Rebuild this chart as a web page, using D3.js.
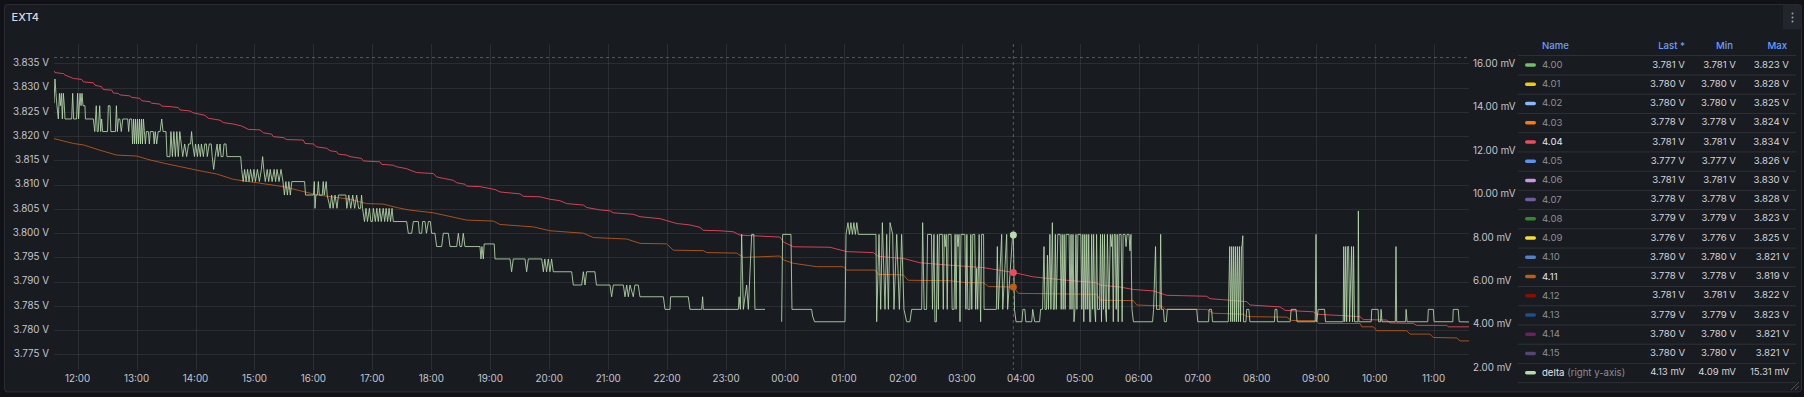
<!DOCTYPE html>
<html>
<head>
<meta charset="utf-8">
<script src="https://cdn.jsdelivr.net/npm/d3@7"></script>
<style>
  body { margin: 0; background: #111217; }
  svg text { font-family: Inter, "Open Sans", sans-serif; }
</style>
</head>
<body>
<svg id="chart"></svg>
<script>
// time window: 24h starting 11:36, series stored as [minutes since start, value]
const startTime = new Date(2024, 0, 1, 11, 36);
const windowMinutes = 1440;
const hoverMinute = 976.3;
const cursorVolt = 3.8362;

const leftTicks = [3.775, 3.780, 3.785, 3.790, 3.795, 3.800, 3.805, 3.810, 3.815, 3.820, 3.825, 3.830, 3.835];
const rightTicks = [2, 4, 6, 8, 10, 12, 14, 16];

// cell 4.04 (V)
const cell404 = [[0,3.8335],[1,3.8331],[9.5,3.8329],[11.2,3.8326],[19.7,3.8319],[28.2,3.8317],[29.9,3.8312],[40,3.8310],
  [41.7,3.8305],[48.5,3.8302],[50.2,3.8296],[58.7,3.8295],[60.4,3.8289],[65.5,3.8288],[67.2,3.8285],[77.3,3.8283],
  [79,3.8280],[87.5,3.8278],[89.2,3.8273],[97.7,3.8271],[99.4,3.8268],[107.9,3.8266],[109.6,3.8262],[118.1,3.8261],
  [126.5,3.8259],[128.2,3.8254],[138.4,3.8252],[141.8,3.8248],[153.6,3.8243],[157,3.8237],[168.9,3.8233],[172.3,3.8228],
  [182.5,3.8225],[191,3.8221],[197.8,3.8214],[209.6,3.8213],[213,3.8207],[221.5,3.8204],[223.2,3.8199],[233.4,3.8197],
  [236.8,3.8193],[253.7,3.8192],[255.4,3.8185],[263.9,3.8184],[267.3,3.8178],[277.5,3.8175],[280.9,3.8170],[287.6,3.8168],
  [289.3,3.8163],[297.8,3.8161],[301.2,3.8158],[313.1,3.8154],[314.8,3.8149],[331.7,3.8147],[333.4,3.8142],[345.3,3.8140],
  [348.7,3.8137],[358.9,3.8133],[362.3,3.8130],[369.1,3.8125],[386,3.8123],[389.4,3.8116],[396.2,3.8113],[406.4,3.8109],
  [409.8,3.8104],[418.2,3.8101],[420,3.8097],[433.5,3.8096],[448.8,3.8090],[453.9,3.8085],[464.1,3.8083],[474.2,3.8081],
  [477.6,3.8076],[494.6,3.8075],[504.7,3.8070],[514.9,3.8067],[521.7,3.8061],[538.7,3.8058],[542.1,3.8053],[555.6,3.8048],
  [565.8,3.8046],[569.2,3.8042],[589.5,3.8039],[596.3,3.8034],[616.7,3.8030],[623.5,3.8026],[633.6,3.8020],[647.2,3.8017],
  [657.4,3.8012],[660.8,3.8006],[677.7,3.8005],[691.3,3.8003],[698.1,3.7996],[718.4,3.7994],[738.8,3.7992],[742.2,3.7982],
  [752.4,3.7972],[789.7,3.7971],[806.7,3.7962],[833.8,3.7960],[838.9,3.7952],[864.3,3.7948],[881.3,3.7939],[911.9,3.7934],
  [945.8,3.7929],[976.3,3.7919],[996.6,3.7910],[1030.6,3.7903],[1061.2,3.7898],[1064.5,3.7893],[1084.9,3.7889],
  [1098.4,3.7884],[1118.8,3.7881],[1132.3,3.7872],[1173,3.7870],[1176.4,3.7865],[1213.7,3.7859],[1217.1,3.7852],
  [1247.7,3.7848],[1252.8,3.7841],[1281.6,3.7838],[1285,3.7833],[1329.1,3.7828],[1332.5,3.7822],[1356.2,3.7821],
  [1359.6,3.7815],[1383.4,3.7814],[1386.7,3.7810],[1417.3,3.7810],[1419,3.7807],[1440,3.7807]];

// cell 4.11 (V)
const cell411 = [[0,3.8195],[19.6,3.8185],[29.8,3.8182],[46.8,3.8171],[63.8,3.8161],[84.2,3.8159],[97.7,3.8151],[114.7,3.8143],
  [145.2,3.8130],[165.6,3.8122],[182.5,3.8111],[216.5,3.8101],[233.4,3.8096],[267.4,3.8079],[301.2,3.8070],[318.2,3.8061],
  [335.1,3.8060],[348.8,3.8053],[360.6,3.8048],[386,3.8042],[420,3.8027],[447.1,3.8025],[453.9,3.8018],[487.8,3.8013],
  [504.8,3.8005],[538.7,3.8000],[548.9,3.7991],[582.8,3.7988],[596.4,3.7979],[623.5,3.7978],[630.3,3.7965],[660.8,3.7964],
  [664.3,3.7960],[694.8,3.7959],[701.5,3.7950],[738.8,3.7953],[742.2,3.7945],[752.4,3.7938],[776.2,3.7931],[803.3,3.7931],
  [806.7,3.7924],[835.5,3.7924],[838.9,3.7915],[864.3,3.7914],[869.4,3.7903],[911.9,3.7902],[928.9,3.7898],[945.8,3.7898],
  [950.9,3.7890],[976.3,3.7889],[981.4,3.7876],[1061.2,3.7874],[1064.5,3.7862],[1098.4,3.7861],[1101.9,3.7852],[1127.3,3.7850],
  [1130.7,3.7843],[1173.1,3.7843],[1179.8,3.7835],[1210.4,3.7833],[1213.8,3.7828],[1254.5,3.7827],[1259.6,3.7820],[1285,3.7820],
  [1286.7,3.7814],[1329.2,3.7814],[1330.9,3.7807],[1342.7,3.7807],[1346.1,3.7799],[1376.6,3.7799],[1380,3.7792],[1400.3,3.7792],
  [1403.7,3.7785],[1427.5,3.7784],[1430.9,3.7778],[1440,3.7778]];

// delta (mV, right axis), null = gap
const delta = [[0,14.2],[1,15.31],[2,14.65],[3,14.08],[4.4,13.47],[5.5,14.65],[6.5,14.08],[7.5,14.65],[8.5,13.47],[9.5,14.65],
  [10.5,14.08],[11.2,13.47],[18,13.47],[19,14.65],[20,13.47],[23,13.47],[24,14.65],[25,13.47],[26.5,14.65],[27.5,14.08],
  [28.5,14.65],[29.5,14.08],[31.5,14.08],[32,13.47],[40,13.47],[41.5,12.89],[43,14.08],[44,12.89],[45,12.89],[46.5,14.08],
  [47.5,12.89],[48.5,13.47],[49.5,12.89],[54.5,12.89],[55.3,14.08],[57,14.08],[57.8,12.89],[62.5,12.89],[63.5,14.08],
  [64.5,12.89],[65.5,13.47],[67,13.47],[68.5,12.89],[70,13.47],[75,13.47],[76,12.89],[77,13.47],[79,13.47],[80,12.32],
  [81,13.47],[82,12.32],[83,13.47],[84,12.32],[85,13.47],[86,12.32],[87,13.47],[88,12.32],[89,13.47],[90,12.32],[91,13.47],
  [92,12.89],[93,12.32],[94,12.89],[96,12.89],[97,12.32],[98,12.89],[101,12.89],[102,12.32],[103,12.89],[104.5,12.32],
  [106,12.89],[108,12.89],[109.6,13.47],[111,12.89],[114,12.89],[115,11.74],[118,11.74],[119,12.89],[120.5,11.74],[122,12.89],
  [123.5,11.74],[125,12.89],[126.5,11.74],[128,12.89],[129.5,12.32],[131,11.74],[133,12.32],[135,11.74],[137,12.32],
  [139,12.32],[140,12.89],[141,12.32],[143,11.74],[144,12.32],[146,11.74],[147,12.32],[149,11.74],[150,12.32],[152,11.74],
  [153.5,12.32],[155,12.32],[156,11.74],[158,12.32],[160,12.32],[161,11.74],[162.5,11.15],[164,11.74],[166,12.32],[167,11.74],
  [169,12.32],[170,11.74],[172,11.74],[173,12.32],[175,12.32],[176,11.74],[190,11.74],[191,11.15],[192.5,10.59],[194,11.15],
  [195.5,10.59],[197,11.15],[198.5,10.59],[200,11.15],[202,10.59],[203.5,11.15],[205,10.59],[207,11.15],[209,10.59],
  [211,11.15],[212.3,11.74],[213.5,11.15],[215,10.59],[217,11.15],[218.5,10.59],[220,11.15],[222,10.59],[224,11.15],
  [225.5,10.59],[227,11.15],[229,10.59],[231,11.15],[233,10.59],[234.5,9.97],[236,10.59],[237.5,9.97],[239,10.59],
  [240.5,9.97],[242,10.59],[255,10.59],[256,9.97],[264,9.97],[264.9,10.59],[265.6,9.36],[266.5,9.97],[268,9.97],[269,10.59],
  [270,9.97],[273,9.97],[274,10.59],[275,9.97],[277,10.59],[278,9.97],[281,9.36],[282.5,9.97],[284,9.36],[286,9.97],
  [288,9.36],[289.5,9.97],[297,9.97],[298,9.36],[300,9.97],[302,9.36],[304,9.97],[306,9.36],[308,9.97],[310,9.36],[312,9.36],
  [313,9.97],[314,9.36],[316,8.75],[317.5,9.36],[319,8.75],[321,9.36],[322.5,8.75],[324,8.75],[325,9.36],[327,8.75],
  [328.5,9.36],[330,8.75],[331.5,9.36],[333,8.75],[335,9.36],[336.5,8.75],[338,9.36],[339.5,8.75],[341,9.36],[342.5,8.75],
  [344,9.36],[345.3,8.75],[352.1,8.75],[358.9,8.75],[360.6,8.21],[364,8.21],[365.7,8.75],[370.8,8.75],[371.8,8.21],
  [374.2,8.21],[375.2,8.75],[377.5,8.75],[379,8.21],[381,8.75],[383,8.75],[384.3,8.21],[387.7,8.21],[389.4,7.60],[394.5,7.60],
  [396.2,8.21],[401.3,8.21],[403,7.60],[409.8,7.60],[411.5,8.21],[413.2,7.60],[414.9,7.60],[416.5,8.21],[418.2,7.60],
  [433.5,7.60],[434.5,7.03],[435.5,7.60],[436.9,7.03],[437.8,7.72],[448,7.72],[448.8,7.03],[464.1,7.03],[465.7,6.44],
  [467.4,7.03],[479.3,7.03],[481,6.44],[482.7,7.03],[496.3,7.03],[498,6.44],[499.5,7.03],[501.3,6.44],[503,7.03],[504.7,6.44],
  [506.4,7.03],[508.1,6.44],[526.8,6.44],[528.5,5.83],[537,5.83],[538.7,6.44],[540.4,5.83],[542,6.44],[550.5,6.44],[552,5.83],
  [565.8,5.83],[567.5,5.29],[569.2,5.83],[579.4,5.83],[581.1,5.29],[582.8,5.83],[584.5,5.29],[586.2,5.83],[589.5,5.29],
  [591.2,5.83],[594.6,5.83],[596.3,5.29],[620.1,5.29],[621.8,4.71],[626.9,4.71],[627.5,5.29],[645.5,5.29],[647.2,4.71],
  [659.1,4.71],[660.1,5.29],[660.8,4.71],[696.4,4.71],[697.2,5.29],[698.5,4.71],[699.8,8.16],[701.5,4.71],[704.9,5.83],
  [706.6,4.71],[710,8.16],[712.2,8.16],[713.3,4.71],[723.6,4.71],[730,null],[740.5,4.14],[741.5,8.16],[750,8.16],[751,4.71],
  [771,4.71],[772,4.4],[774,4.14],[805,4.14],[806,8.16],[808,8.70],[809.5,8.16],[811,8.70],[812.5,8.16],[814,8.70],
  [815.5,8.16],[817,8.70],[818.5,8.16],[836.5,8.16],[837.2,4.14],[839.6,8.16],[841.3,4.71],[843,8.70],[845.7,4.71],
  [847.4,8.16],[849.1,4.71],[850.8,8.70],[853.5,8.16],[854.8,4.71],[857.6,8.16],[860.3,4.71],[862.6,8.16],[865,4.71],
  [867.7,4.14],[871,4.14],[872.8,4.71],[883,4.71],[884,8.70],[885.5,4.71],[888,4.71],[889,8.16],[893,8.16],[894,4.71],
  [895.5,8.16],[896.5,4.14],[898,4.14],[899,8.16],[900,4.71],[901,8.16],[904,8.16],[905,4.71],[906,8.16],[907,7.60],
  [908,8.16],[909,4.71],[910,8.16],[913,8.16],[914,4.71],[916,4.71],[917,8.16],[918,4.71],[919,8.16],[920,7.60],[921,8.16],
  [922,4.14],[923,8.16],[927,8.16],[928,4.71],[929,8.16],[930,4.71],[932,4.71],[933,8.16],[934,4.71],[935,8.16],[937,8.16],
  [938,4.71],[939,6.60],[940,4.71],[941.5,8.16],[943,4.14],[944,8.16],[946,8.16],[946.5,4.71],[959,4.71],[960,7.60],
  [961,4.71],[964.4,8.16],[965.5,4.71],[969.5,8.16],[970.5,4.71],[975.6,8.16],[976.3,8.13],[977.5,4.71],[979,4.14],[985,4.14],
  [986,4.71],[988,4.71],[989,4.14],[995,4.14],[996,4.71],[998,4.14],[1003,4.14],[1004,4.71],[1006,4.71],[1007.5,7.60],
  [1008.5,4.71],[1010,4.71],[1011,7.20],[1012,4.71],[1013.5,8.16],[1014.5,4.71],[1016,8.70],[1017,4.71],[1018,4.71],
  [1019,8.16],[1020,4.71],[1021.5,8.16],[1024,8.16],[1025,4.71],[1026,8.16],[1027,4.71],[1028,8.16],[1029,4.71],[1030,8.16],
  [1033,8.16],[1034,4.71],[1035,8.16],[1036,4.71],[1037,8.16],[1038,4.14],[1039,4.71],[1040,8.16],[1041,4.71],[1042,8.16],
  [1045,8.16],[1046,4.71],[1047,8.16],[1048,4.14],[1049,8.16],[1050,4.71],[1051,8.16],[1052,4.71],[1053,8.16],[1054,4.14],
  [1055,4.14],[1056,8.16],[1057,4.71],[1058,8.16],[1059,4.71],[1060,4.14],[1061,8.16],[1062,4.71],[1064,4.71],[1065,8.16],
  [1066,4.14],[1067,8.16],[1068,4.71],[1069,8.16],[1070,4.71],[1071,4.14],[1072,8.16],[1073.5,4.71],[1075,8.16],[1076,7.60],
  [1077,8.16],[1078,4.14],[1079,8.16],[1080,8.16],[1081,4.71],[1082,8.16],[1083,4.14],[1084,8.16],[1086,8.16],[1087,4.14],
  [1088,8.16],[1090,8.16],[1091,7.60],[1092,8.16],[1094,8.16],[1095,7.40],[1096,8.16],[1097,4.71],[1098.5,4.14],
  [1118,4.14],[1119,4.71],[1121,7.60],[1122,4.71],
  [1125.5,4.71],[1126.2,8.16],[1127,4.71],[1129,4.71],[1130,4.14],[1132,4.14],[1133,4.71],[1162.9,4.71],[1164,4.14],
  [1175,4.14],[1175.5,4.71],[1178,4.71],[1179,4.14],[1195,4.14],[1196.5,7.60],[1197.5,4.14],[1198.5,7.60],[1199.5,4.14],
  [1200.5,7.60],[1201.5,4.14],[1202.5,7.60],[1203.5,4.14],[1204.5,7.60],[1205.5,4.14],[1206.5,7.60],[1207.5,4.14],
  [1208.5,7.60],[1209,7.60],[1209.8,8.10],[1210.5,4.14],[1213,4.14],[1213.8,4.71],[1216,4.71],[1217,4.14],[1242,4.14],
  [1242.6,4.71],[1244.5,4.71],[1245,4.14],[1258,4.14],[1259,4.71],[1264,4.71],[1265,4.14],[1283.5,4.14],[1284.3,8.16],
  [1285,4.14],[1286.5,4.71],[1293,4.71],[1294,4.14],[1312,4.14],[1312.5,7.60],[1313.5,4.14],[1314.5,7.60],[1315.5,4.14],
  [1316.5,7.60],[1317.5,7.60],[1318.5,4.14],[1320.5,7.60],[1321.5,4.14],[1322.5,7.60],[1323.5,4.14],[1327,4.14],[1327.4,9.24],
  [1328,4.14],[1340.5,4.14],[1341,4.71],[1347.5,4.71],[1348,4.14],[1350,4.14],[1350.5,4.71],[1351.5,4.14],[1365,4.14],
  [1365.7,7.60],[1366.4,4.14],[1375.5,4.14],[1376,4.71],[1377,4.14],[1398,4.14],[1398.6,4.71],[1403.7,4.71],[1404.5,4.14],
  [1423.5,4.14],[1424,4.71],[1429,4.71],[1430,4.14],[1440,4.13]];

// legend table
const legendNames = ['4.00','4.01','4.02','4.03','4.04','4.05','4.06','4.07','4.08','4.09','4.10','4.11','4.12','4.13','4.14','4.15'];
const legendColors = ['#73BF69','#F2CC0C','#8AB8FF','#FF780A','#F2495C','#5794F2','#CA95E5','#705DA0',
  '#37872D','#FADE2A','#5281C8','#C15C17','#890F02','#1F4E8C','#6D1F62','#584477'];
const lastValues = [3.781,3.780,3.780,3.778,3.781,3.777,3.781,3.778,3.779,3.776,3.780,3.778,3.781,3.779,3.780,3.780];
const minValues = [3.781,3.780,3.780,3.778,3.781,3.777,3.781,3.778,3.779,3.776,3.780,3.778,3.781,3.779,3.780,3.780];
const maxValues = [3.823,3.828,3.825,3.824,3.834,3.826,3.830,3.828,3.823,3.825,3.821,3.819,3.822,3.823,3.821,3.821];
const shownSeries = ['4.04','4.11'];
const deltaColor = '#B7DBAB';
const deltaStats = [4.13, 4.09, 15.31];

class TimeSeriesPanel {
  constructor(_config) {
    this.config = {
      parentElement: _config.parentElement,
      width: 1804,
      height: 397,
      plot: { left: 54, right: 1469, top: 44, bottom: 370 }
    };
    this.initVis();
  }

  initVis() {
    let vis = this;
    let p = vis.config.plot;

    vis.svg = d3.select(vis.config.parentElement)
      .attr('width', vis.config.width)
      .attr('height', vis.config.height);

    vis.xScale = d3.scaleTime()
      .domain([startTime, d3.timeMinute.offset(startTime, windowMinutes)])
      .range([p.left, p.right]);
    vis.yLeft = d3.scaleLinear().domain([3.7718, 3.8390]).range([p.bottom, p.top]);
    vis.yRight = d3.scaleLinear().domain([1.92, 16.92]).range([p.bottom, p.top]);

    vis.toDate = m => new Date(startTime.getTime() + m * 60000);

    vis.renderVis();
  }

  renderVis() {
    let vis = this;
    let p = vis.config.plot;
    const gridColor = 'rgba(204,204,220,0.1)';
    const axisText = '#c4c5cf';

    // panel
    vis.svg.append('rect')
      .attr('x', 4.5).attr('y', 4.5)
      .attr('width', 1797).attr('height', 387.5)
      .attr('rx', 3)
      .attr('fill', '#181b1f')
      .attr('stroke', 'rgba(204,204,220,0.12)');

    vis.svg.append('text')
      .attr('x', 11.5).attr('y', 17.5)
      .attr('dominant-baseline', 'middle')
      .attr('font-size', 11)
      .attr('font-weight', 500)
      .attr('fill', '#d8d9e3')
      .text('EXT4');

    // menu button
    vis.svg.append('rect')
      .attr('x', 1783).attr('y', 4.5)
      .attr('width', 18.5).attr('height', 25)
      .attr('fill', '#22252b');
    vis.svg.selectAll('.menu-dot')
      .data([13.5, 17.5, 21.5])
      .join('circle')
      .attr('cx', 1792.5).attr('cy', d => d)
      .attr('r', 1)
      .attr('fill', '#a0a2ab');

    const chart = vis.svg.append('g');

    // grid
    const hours = d3.timeHour.range(vis.xScale.domain()[0], vis.xScale.domain()[1]);
    chart.selectAll('.vgrid')
      .data(hours)
      .join('line')
      .attr('x1', d => Math.round(vis.xScale(d)) + 0.5)
      .attr('x2', d => Math.round(vis.xScale(d)) + 0.5)
      .attr('y1', p.top).attr('y2', p.bottom)
      .attr('stroke', gridColor);

    chart.selectAll('.hgrid')
      .data(leftTicks)
      .join('line')
      .attr('x1', p.left).attr('x2', p.right)
      .attr('y1', d => Math.round(vis.yLeft(d)) + 0.5)
      .attr('y2', d => Math.round(vis.yLeft(d)) + 0.5)
      .attr('stroke', gridColor);

    // axes labels
    chart.selectAll('.xlab')
      .data(hours)
      .join('text')
      .attr('x', d => vis.xScale(d))
      .attr('y', 379)
      .attr('text-anchor', 'middle')
      .attr('dominant-baseline', 'middle')
      .attr('font-size', 9.8)
      .attr('fill', axisText)
      .text(d => d3.timeFormat('%H:%M')(d));

    chart.selectAll('.ylab')
      .data(leftTicks)
      .join('text')
      .attr('x', 49)
      .attr('y', d => vis.yLeft(d))
      .attr('text-anchor', 'end')
      .attr('dominant-baseline', 'middle')
      .attr('font-size', 9.8)
      .attr('fill', axisText)
      .text(d => d3.format('.3f')(d) + ' V');

    chart.selectAll('.rlab')
      .data(rightTicks)
      .join('text')
      .attr('x', 1473)
      .attr('y', d => vis.yRight(d))
      .attr('text-anchor', 'start')
      .attr('dominant-baseline', 'middle')
      .attr('font-size', 9.8)
      .attr('fill', axisText)
      .text(d => d3.format('.2f')(d) + ' mV');

    // crosshair
    const hx = vis.xScale(vis.toDate(hoverMinute));
    chart.append('line')
      .attr('x1', hx).attr('x2', hx)
      .attr('y1', p.top).attr('y2', p.bottom)
      .attr('stroke', 'rgba(204,204,220,0.35)')
      .attr('stroke-dasharray', '3,3');
    chart.append('line')
      .attr('x1', p.left).attr('x2', p.right)
      .attr('y1', vis.yLeft(cursorVolt)).attr('y2', vis.yLeft(cursorVolt))
      .attr('stroke', 'rgba(204,204,220,0.35)')
      .attr('stroke-dasharray', '3,3');

    // series
    vis.svg.append('clipPath').attr('id', 'plot-clip')
      .append('rect')
      .attr('x', p.left).attr('y', p.top)
      .attr('width', p.right - p.left).attr('height', p.bottom - p.top);

    const lines = chart.append('g').attr('clip-path', 'url(#plot-clip)');

    const series = [
      { data: cell404, y: vis.yLeft, color: legendColors[4] },
      { data: cell411, y: vis.yLeft, color: legendColors[11] },
      { data: delta, y: vis.yRight, color: deltaColor }
    ];

    series.forEach(s => {
      const line = d3.line()
        .defined(d => d[1] !== null)
        .x(d => vis.xScale(vis.toDate(d[0])))
        .y(d => s.y(d[1]));
      lines.append('path')
        .datum(s.data)
        .attr('fill', 'none')
        .attr('stroke', s.color)
        .attr('stroke-opacity', 0.85)
        .attr('stroke-width', 1)
        .attr('stroke-linejoin', 'round')
        .attr('d', line);
    });

    // hover points
    const bisect = d3.bisector(d => d[0]).left;
    series.forEach(s => {
      const i = Math.min(bisect(s.data, hoverMinute), s.data.length - 1);
      const d = s.data[i];
      chart.append('circle')
        .attr('cx', hx)
        .attr('cy', s.y(d[1]))
        .attr('r', 3.5)
        .attr('fill', s.color);
    });

    vis.renderLegend();
  }

  renderLegend() {
    let vis = this;
    const lg = vis.svg.append('g');
    const rowY = i => 65 + i * 19.23;
    const cols = [1685, 1736, 1789];
    const sepColor = 'rgba(204,204,220,0.12)';
    const fs = 9.6;

    const headers = ['Last *', 'Min', 'Max'];
    const headerX = [1685, 1733, 1787];
    lg.append('text')
      .attr('x', 1542).attr('y', 46.7)
      .attr('dominant-baseline', 'middle')
      .attr('font-size', fs).attr('font-weight', 500)
      .attr('fill', '#6E9FFF')
      .text('Name');
    lg.selectAll('.hdr')
      .data(headers)
      .join('text')
      .attr('x', (d, i) => headerX[i]).attr('y', 46.7)
      .attr('text-anchor', 'end')
      .attr('dominant-baseline', 'middle')
      .attr('font-size', fs).attr('font-weight', 500)
      .attr('fill', '#6E9FFF')
      .text(d => d);

    lg.append('line')
      .attr('x1', 1518).attr('x2', 1796)
      .attr('y1', 55.5).attr('y2', 55.5)
      .attr('stroke', sepColor);

    const rows = legendNames.map((name, i) => ({
      name: name,
      color: legendColors[i],
      vals: [lastValues[i], minValues[i], maxValues[i]].map(v => d3.format('.3f')(v) + ' V'),
      shown: shownSeries.includes(name)
    }));
    rows.push({
      name: 'delta',
      color: deltaColor,
      vals: deltaStats.map(v => d3.format('.2f')(v) + ' mV'),
      shown: true
    });

    const row = lg.selectAll('.row')
      .data(rows)
      .join('g')
      .attr('transform', (d, i) => `translate(0,${rowY(i)})`);

    row.append('line')
      .attr('x1', 1518).attr('x2', 1796)
      .attr('y1', 10).attr('y2', 10)
      .attr('stroke', sepColor);

    row.append('rect')
      .attr('x', 1525).attr('y', -1.75)
      .attr('width', 11).attr('height', 3.5)
      .attr('rx', 1.75)
      .attr('fill', d => d.color);

    const nameText = row.append('text')
      .attr('x', 1542).attr('y', 0)
      .attr('dominant-baseline', 'middle')
      .attr('font-size', fs)
      .attr('fill', d => d.shown ? '#e3e4ec' : '#8d8e96');
    nameText.append('tspan').text(d => d.name);
    nameText.filter(d => d.name === 'delta')
      .append('tspan')
      .attr('fill', '#8d8e96')
      .text(' (right y-axis)');

    cols.forEach((cx, k) => {
      row.append('text')
        .attr('x', cx).attr('y', 0)
        .attr('text-anchor', 'end')
        .attr('dominant-baseline', 'middle')
        .attr('font-size', fs)
        .attr('fill', '#d3d4dd')
        .text(d => d.vals[k]);
    });

    // resize handle
    lg.selectAll('.grip')
      .data([[1791, 390, 1799, 382], [1795, 390, 1799, 386]])
      .join('line')
      .attr('x1', d => d[0]).attr('y1', d => d[1])
      .attr('x2', d => d[2]).attr('y2', d => d[3])
      .attr('stroke', 'rgba(204,204,220,0.3)');
  }
}

new TimeSeriesPanel({ parentElement: '#chart' });
</script>
</body>
</html>
